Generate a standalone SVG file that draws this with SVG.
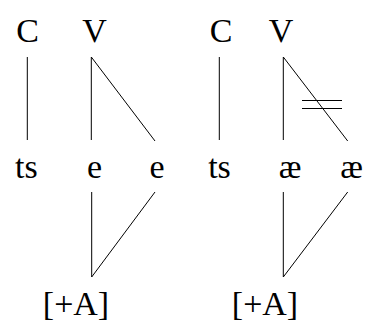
<svg xmlns="http://www.w3.org/2000/svg" width="369" height="325" viewBox="0 0 369 325">
<style>
.t{font-size:34px;fill:#000;text-anchor:middle}
line{stroke:#000;stroke-width:1}
</style>
<rect width="369" height="325" fill="#fff"/>
<g id="connectors">
<line x1="27.3" y1="57" x2="27.3" y2="140"/>
<line x1="91.3" y1="57" x2="91.3" y2="140"/>
<line x1="91.3" y1="57" x2="155" y2="141"/>
<line x1="91.7" y1="192" x2="91.7" y2="277"/>
<line x1="155" y1="192" x2="91.7" y2="277"/>
<line x1="219.3" y1="57" x2="219.3" y2="140"/>
<line x1="283.3" y1="57" x2="283.3" y2="140"/>
<line x1="283.3" y1="57" x2="347.7" y2="141"/>
<line x1="283.3" y1="192" x2="283.3" y2="277"/>
<line x1="347.7" y1="192" x2="283.3" y2="277"/>
<line x1="302" y1="100.5" x2="342" y2="100.5"/>
<line x1="302" y1="108.5" x2="342" y2="108.5"/>
</g>
<g font-family="Liberation Serif">
<g id="C1"><text class="t" x="27.5" y="41.5">C</text></g>
<g id="V1"><text class="t" x="94.5" y="41.5">V</text></g>
<g id="ts1"><text class="t" x="26.3" y="177.5">ts</text></g>
<g id="e1"><text class="t" x="94.5" y="177.5">e</text></g>
<g id="e2"><text class="t" x="157" y="177.5">e</text></g>
<g id="A1"><text class="t" x="76" y="315">[+A]</text></g>
<g id="C2"><text class="t" x="221" y="41.5">C</text></g>
<g id="V2"><text class="t" x="281" y="41.5">V</text></g>
<g id="ts2"><text class="t" x="219.5" y="177.5">ts</text></g>
<g id="ae1"><text class="t" x="290" y="177.5">æ</text></g>
<g id="ae2"><text class="t" x="351.7" y="177.5">æ</text></g>
<g id="A2"><text class="t" x="265" y="315">[+A]</text></g>
</g>
</svg>
